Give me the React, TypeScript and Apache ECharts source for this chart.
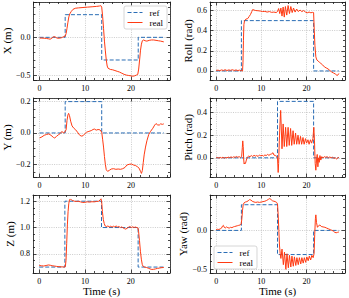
import React, { useEffect, useRef } from "react";
import * as echarts from "echarts";

const FONT = "'Liberation Serif', 'Times New Roman', serif";
const REF_COLOR = "#2a6db5";
const REAL_COLOR = "#ff3a12";
const AXIS_COLOR = "#1a1a1a";

// Reference step schedule
const stepTimes = [0, 5.6, 13.6, 21.6, 27.2];
const xRefLevels = [0, 0.3, -0.3, 0];
const rollRefLevels = [0, 0.5, 0.5, 0];
const yRefLevels = [0, 0.2, 0, 0];
const pitchRefLevels = [0, 0, 0.5, 0];
const zRefLevels = [0.7, 1.2, 1.0, 0.7];
const yawRefLevels = [0, 0.33, -0.31, 0];

// Measured ("real") trajectories: [time s, value]
const xReal = [
  [0, -0.01], [0.5, -0.01], [1, -0.012], [1.5, -0.015], [2, -0.02], [2.3, -0.025], [2.7, -0.01], [3.1, 0.01],
  [3.4, 0.005], [3.8, -0.01], [4.3, -0.012], [4.8, -0.005], [5.3, 0.01], [5.6, 0.015], [5.8, 0.05], [6.0, 0.12],
  [6.2, 0.2], [6.4, 0.27], [6.6, 0.31], [6.9, 0.34], [7.3, 0.37], [7.8, 0.385], [8.5, 0.39], [9.5, 0.395],
  [10.5, 0.4], [11.5, 0.405], [12.5, 0.41], [13.1, 0.415], [13.4, 0.42], [13.6, 0.4], [13.8, 0.28], [14.0, 0.12],
  [14.2, -0.05], [14.4, -0.18], [14.6, -0.3], [14.8, -0.38], [15.0, -0.41], [15.5, -0.425], [16.0, -0.43],
  [16.5, -0.44], [17.0, -0.45], [17.5, -0.46], [18.0, -0.475], [18.5, -0.49], [19.0, -0.5], [19.5, -0.505],
  [20.0, -0.51], [20.4, -0.515], [20.8, -0.51], [21.2, -0.5], [21.5, -0.49], [21.7, -0.42], [21.9, -0.3],
  [22.1, -0.17], [22.3, -0.09], [22.5, -0.045], [22.8, -0.035], [23.1, -0.045], [23.5, -0.05], [24.0, -0.04],
  [24.5, -0.035], [25.0, -0.035], [25.5, -0.04], [26.0, -0.045], [26.5, -0.05], [27.2, -0.06],
];

const rollReal = [
  [0, 0.005], [0.4, 0.008], [0.8, 0.003], [1.2, 0.01], [1.6, 0.005], [2.0, 0.012], [2.4, 0.004], [2.8, 0.01],
  [3.2, 0.006], [3.6, 0.012], [4.0, 0.005], [4.4, 0.01], [4.8, 0.004], [5.2, 0.008], [5.6, 0.002], [5.85, 0.0],
  [5.95, 0.08], [6.05, 0.3], [6.15, 0.46], [6.3, 0.5], [6.6, 0.515], [7.0, 0.52], [7.3, 0.54], [7.6, 0.56],
  [7.9, 0.59], [8.1, 0.61], [8.4, 0.605], [8.8, 0.6], [9.3, 0.598], [9.8, 0.595], [10.3, 0.59], [10.8, 0.592],
  [11.3, 0.585], [11.8, 0.59], [12.3, 0.582], [12.8, 0.585], [13.3, 0.58], [13.6, 0.59], [13.85, 0.62],
  [14.1, 0.57], [14.35, 0.625], [14.6, 0.545], [14.85, 0.635], [15.1, 0.535], [15.35, 0.64], [15.65, 0.555],
  [15.95, 0.65], [16.25, 0.57], [16.55, 0.64], [16.85, 0.58], [17.15, 0.625], [17.5, 0.585], [17.85, 0.615],
  [18.2, 0.59], [18.6, 0.605], [19.0, 0.59], [19.4, 0.6], [19.8, 0.585], [20.2, 0.578], [20.6, 0.585],
  [21.0, 0.578], [21.4, 0.582], [21.6, 0.58], [21.75, 0.4], [21.9, 0.25], [22.1, 0.14], [22.3, 0.11],
  [22.6, 0.1], [22.9, 0.085], [23.2, 0.075], [23.6, 0.06], [24.0, 0.04], [24.4, 0.03], [24.8, 0.02],
  [25.2, 0.005], [25.6, -0.01], [26.0, -0.02], [26.4, -0.03], [26.8, -0.045], [27.0, -0.04], [27.2, -0.025],
];

const yReal = [
  [0, -0.032], [0.5, -0.025], [1.0, -0.015], [1.5, -0.01], [2.0, -0.006], [2.5, -0.015], [3.0, -0.028],
  [3.3, -0.032], [3.7, -0.022], [4.1, -0.012], [4.5, -0.004], [4.9, 0.01], [5.2, 0.0], [5.5, 0.005],
  [5.8, 0.02], [6.0, 0.08], [6.2, 0.115], [6.35, 0.125], [6.55, 0.11], [6.8, 0.075], [7.1, 0.045], [7.5, 0.03],
  [7.9, 0.02], [8.3, 0.005], [8.7, -0.012], [9.1, -0.02], [9.5, -0.018], [9.9, -0.005], [10.3, 0.005],
  [10.8, 0.01], [11.3, 0.015], [11.7, 0.022], [12.0, 0.025], [12.4, 0.018], [12.8, 0.022], [13.2, 0.02],
  [13.6, 0.005], [13.8, -0.04], [14.0, -0.09], [14.2, -0.15], [14.4, -0.2], [14.6, -0.235], [14.9, -0.245],
  [15.3, -0.238], [15.7, -0.23], [16.2, -0.228], [16.7, -0.232], [17.2, -0.23], [17.7, -0.232], [18.2, -0.228],
  [18.7, -0.22], [19.1, -0.205], [19.6, -0.2], [20.1, -0.198], [20.6, -0.205], [21.0, -0.208], [21.4, -0.215],
  [21.8, -0.225], [22.1, -0.245], [22.3, -0.258], [22.5, -0.24], [22.7, -0.19], [22.9, -0.14], [23.2, -0.09],
  [23.5, -0.05], [23.9, -0.01], [24.3, 0.01], [24.8, 0.03], [25.2, 0.05], [25.5, 0.06], [25.8, 0.052],
  [26.2, 0.05], [26.5, 0.058], [26.9, 0.055], [27.2, 0.058],
];

const pitchReal = [
  [0, 0.0], [0.3, 0.003], [0.6, -0.003], [0.9, 0.004], [1.2, -0.002], [1.5, 0.005], [1.8, -0.004], [2.1, 0.003],
  [2.4, 0.0], [2.7, 0.006], [3.0, 0.002], [3.3, 0.008], [3.6, 0.003], [3.9, 0.009], [4.2, 0.004], [4.5, 0.012],
  [4.8, 0.005], [5.1, 0.01], [5.4, 0.004], [5.65, 0.01], [5.8, 0.09], [5.9, 0.15], [6.0, 0.1], [6.1, -0.01],
  [6.2, -0.055], [6.35, -0.045], [6.5, -0.05], [6.7, -0.02], [6.9, 0.005], [7.2, 0.015], [7.5, 0.01],
  [7.8, 0.02], [8.1, 0.012], [8.4, 0.022], [8.7, 0.015], [9.0, 0.02], [9.3, 0.012], [9.6, 0.025], [9.9, 0.018],
  [10.2, 0.022], [10.5, 0.015], [10.8, 0.025], [11.1, 0.02], [11.4, 0.03], [11.7, 0.022], [12.0, 0.03],
  [12.3, 0.035], [12.6, 0.045], [12.8, 0.025], [13.1, 0.02], [13.4, 0.015], [13.6, 0.0], [13.75, -0.13],
  [13.85, -0.05], [14.0, 0.15], [14.15, 0.3], [14.3, 0.42], [14.6, 0.08], [14.85, 0.3], [15.1, 0.1],
  [15.4, 0.27], [15.65, 0.1], [15.95, 0.27], [16.2, 0.11], [16.5, 0.26], [16.75, 0.11], [17.05, 0.24],
  [17.3, 0.12], [17.6, 0.22], [17.85, 0.12], [18.15, 0.2], [18.4, 0.12], [18.7, 0.19], [18.95, 0.12],
  [19.25, 0.18], [19.5, 0.12], [19.8, 0.17], [20.05, 0.13], [20.35, 0.16], [20.6, 0.12], [20.9, 0.16],
  [21.15, 0.13], [21.45, 0.17], [21.65, 0.27], [21.8, 0.15], [21.95, -0.05], [22.1, -0.11], [22.25, -0.02],
  [22.4, 0.03], [22.55, -0.08], [22.7, 0.0], [22.85, -0.04], [23.0, 0.02], [23.2, -0.02], [23.4, 0.01],
  [23.7, 0.0], [24.0, 0.01], [24.3, 0.005], [24.6, 0.01], [24.9, 0.0], [25.2, 0.008], [25.5, 0.0],
  [25.8, 0.005], [26.1, -0.005], [26.4, 0.0], [26.7, -0.01], [27.0, 0.0], [27.2, 0.005],
];

const zReal = [
  [0, 0.712], [0.5, 0.71], [1.0, 0.708], [1.5, 0.712], [2.0, 0.716], [2.4, 0.714], [2.8, 0.71], [3.3, 0.708],
  [3.8, 0.705], [4.3, 0.703], [4.8, 0.702], [5.3, 0.701], [5.7, 0.702], [5.85, 0.75], [6.0, 0.88],
  [6.15, 1.02], [6.3, 1.12], [6.45, 1.18], [6.6, 1.21], [6.8, 1.217], [7.0, 1.21], [7.3, 1.205], [7.7, 1.2],
  [8.1, 1.198], [8.5, 1.2], [9.0, 1.195], [9.5, 1.19], [10.0, 1.192], [10.5, 1.195], [11.0, 1.193],
  [11.5, 1.196], [12.0, 1.195], [12.5, 1.198], [13.0, 1.2], [13.3, 1.21], [13.5, 1.218], [13.65, 1.19],
  [13.8, 1.12], [14.0, 1.06], [14.2, 1.03], [14.4, 1.012], [14.7, 1.008], [15.0, 1.012], [15.3, 1.005],
  [15.6, 1.01], [15.9, 1.003], [16.2, 1.01], [16.5, 1.005], [16.8, 1.012], [17.1, 1.004], [17.4, 1.008],
  [17.7, 1.0], [18.0, 1.005], [18.3, 0.998], [18.6, 0.992], [18.9, 0.988], [19.2, 0.995], [19.5, 1.002],
  [19.8, 1.008], [20.1, 1.0], [20.4, 1.006], [20.7, 1.0], [21.0, 1.004], [21.3, 1.0], [21.55, 0.998],
  [21.7, 0.97], [21.9, 0.9], [22.1, 0.82], [22.3, 0.76], [22.5, 0.72], [22.7, 0.705], [23.0, 0.7],
  [23.4, 0.697], [23.8, 0.692], [24.2, 0.686], [24.6, 0.682], [25.0, 0.683], [25.4, 0.686], [25.8, 0.69],
  [26.2, 0.692], [26.6, 0.695], [27.2, 0.697],
];

const yawReal = [
  [0, 0.01], [0.3, 0.015], [0.6, 0.012], [0.9, 0.02], [1.2, 0.03], [1.4, 0.055], [1.6, 0.065], [1.8, 0.04],
  [2.0, 0.03], [2.3, 0.045], [2.6, 0.035], [2.9, 0.03], [3.2, 0.04], [3.5, 0.035], [3.8, 0.045], [4.1, 0.05],
  [4.4, 0.055], [4.7, 0.06], [5.0, 0.065], [5.3, 0.07], [5.55, 0.08], [5.7, 0.15], [5.85, 0.26], [6.0, 0.33],
  [6.2, 0.355], [6.5, 0.365], [6.8, 0.37], [7.1, 0.38], [7.4, 0.395], [7.7, 0.39], [8.0, 0.375], [8.4, 0.365],
  [8.8, 0.36], [9.2, 0.365], [9.6, 0.36], [10.0, 0.365], [10.4, 0.37], [10.8, 0.375], [11.2, 0.385],
  [11.6, 0.4], [11.9, 0.41], [12.2, 0.395], [12.5, 0.38], [12.8, 0.375], [13.1, 0.37], [13.4, 0.36],
  [13.6, 0.34], [13.75, 0.2], [13.9, 0.0], [14.05, -0.2], [14.2, -0.3], [14.35, -0.36], [14.6, -0.24],
  [14.9, -0.44], [15.15, -0.28], [15.45, -0.5], [15.7, -0.3], [16.0, -0.48], [16.25, -0.32], [16.55, -0.47],
  [16.8, -0.33], [17.1, -0.46], [17.35, -0.34], [17.65, -0.45], [17.9, -0.35], [18.2, -0.44], [18.45, -0.35],
  [18.75, -0.43], [19.0, -0.35], [19.3, -0.42], [19.55, -0.35], [19.85, -0.41], [20.1, -0.34], [20.4, -0.39],
  [20.65, -0.33], [20.95, -0.38], [21.2, -0.32], [21.5, -0.35], [21.7, -0.3], [21.85, -0.05], [22.0, 0.15],
  [22.1, 0.2], [22.25, 0.1], [22.45, 0.04], [22.7, 0.06], [23.0, 0.07], [23.3, 0.05], [23.7, 0.045],
  [24.1, 0.04], [24.5, 0.03], [24.9, 0.02], [25.3, 0.01], [25.7, 0.0], [26.0, -0.01], [26.3, -0.025],
  [26.6, -0.03], [26.9, -0.025], [27.2, -0.02],
];

// Panel axes
const panelLabels = ["X (m)", "Roll (rad)", "Y (m)", "Pitch (rad)", "Z (m)", "Yaw (rad)"];
const panelRefLevels = [xRefLevels, rollRefLevels, yRefLevels, pitchRefLevels, zRefLevels, yawRefLevels];
const panelReal = [xReal, rollReal, yReal, pitchReal, zReal, yawReal];
const yMins = [-0.565, -0.09, -0.281, -0.17, 0.655, -0.547];
const yMaxs = [0.468, 0.685, 0.223, 0.53, 1.247, 0.455];
const yIntervals = [0.5, 0.2, 0.2, 0.2, 0.2, 0.5];
const yMinorSplits = [5, 4, 4, 4, 4, 5];
const timeMin = -1.36;
const timeMax = 28.56;
const timeInterval = 10;
const timeMinorSplit = 5;

// Layout
const colLefts = [33, 210];
const colWidths = [137, 135];
const rowTops = [2, 98, 195];
const rowHeights = [78, 79, 78];

function stepData(levels: number[]) {
  const pts: number[][] = [];
  for (let k = 0; k < levels.length; k++) {
    pts.push([stepTimes[k], levels[k]]);
    pts.push([stepTimes[k + 1], levels[k]]);
  }
  return pts;
}

const fmtY = (v: number) => {
  const s = Math.abs(v).toFixed(1);
  return v < -1e-9 ? "\u2212" + s : s;
};

export default function App() {
  const ref = useRef<HTMLDivElement>(null);
  useEffect(() => {
    if (!ref.current) return;
    const chart = echarts.init(ref.current, null, { renderer: "svg" });
    const grids: any[] = [];
    const xAxes: any[] = [];
    const yAxes: any[] = [];
    const series: any[] = [];
    const lineCommon = { color: AXIS_COLOR, width: 0.8 };
    for (let i = 0; i < 6; i++) {
      const row = Math.floor(i / 2);
      const col = i % 2;
      grids.push({
        left: colLefts[col],
        top: rowTops[row],
        width: colWidths[col],
        height: rowHeights[row],
        containLabel: false,
      });
      const isBottom = row === 2;
      const xBase = {
        type: "value",
        gridIndex: i,
        min: timeMin,
        max: timeMax,
        minInterval: timeInterval,
        maxInterval: timeInterval,
        splitNumber: 3,
        axisLine: { show: true, onZero: false, lineStyle: lineCommon },
        axisTick: { show: true, inside: true, length: 3.5, lineStyle: lineCommon },
        minorTick: { show: true, splitNumber: timeMinorSplit, length: 2, lineStyle: lineCommon },
      };
      xAxes.push({
        ...xBase,
        position: "bottom",
        axisLabel: {
          show: true,
          fontSize: 8,
          fontFamily: FONT,
          color: "#000",
          margin: 4,
          showMinLabel: false,
          showMaxLabel: false,
          formatter: (v: number) => String(Math.round(v)),
        },
        splitLine: { show: true, lineStyle: { color: "#aaaaaa", type: [1, 1.3], width: 0.6 } },
        name: isBottom ? "Time (s)" : "",
        nameLocation: "middle",
        nameGap: 12,
        nameTextStyle: { fontSize: 11, fontFamily: FONT, color: "#000" },
      });
      xAxes.push({
        ...xBase,
        position: "top",
        axisLabel: { show: false },
        splitLine: { show: false },
      });
      const yBase = {
        type: "value",
        gridIndex: i,
        min: yMins[i],
        max: yMaxs[i],
        minInterval: yIntervals[i],
        maxInterval: yIntervals[i],
        splitNumber: 3,
        axisLine: { show: true, onZero: false, lineStyle: lineCommon },
        axisTick: { show: true, inside: true, length: 3.5, lineStyle: lineCommon },
        minorTick: { show: true, splitNumber: yMinorSplits[i], length: 2, lineStyle: lineCommon },
      };
      yAxes.push({
        ...yBase,
        position: "left",
        axisLabel: {
          show: true,
          fontSize: 8,
          fontFamily: FONT,
          color: "#000",
          margin: 3,
          showMinLabel: false,
          showMaxLabel: false,
          formatter: fmtY,
        },
        splitLine: { show: true, lineStyle: { color: "#aaaaaa", type: [1, 1.3], width: 0.6 } },
        name: panelLabels[i],
        nameLocation: "middle",
        nameGap: col === 0 ? 18 : 17,
        nameTextStyle: { fontSize: 11, fontFamily: FONT, color: "#000" },
      });
      yAxes.push({
        ...yBase,
        position: "right",
        axisLabel: { show: false },
        splitLine: { show: false },
      });
      series.push({
        type: "line",
        name: "ref",
        xAxisIndex: 2 * i,
        yAxisIndex: 2 * i,
        data: stepData(panelRefLevels[i]),
        symbol: "none",
        lineStyle: { color: REF_COLOR, width: 1, type: [4, 2] },
        itemStyle: { color: REF_COLOR },
        z: 2,
      });
      series.push({
        type: "line",
        name: "real",
        xAxisIndex: 2 * i,
        yAxisIndex: 2 * i,
        data: panelReal[i],
        symbol: "none",
        lineStyle: { color: REAL_COLOR, width: 1 },
        itemStyle: { color: REAL_COLOR },
        z: 3,
      });
    }
    const legendCommon = {
      data: ["ref", "real"],
      orient: "vertical",
      selectedMode: false,
      itemWidth: 15,
      itemHeight: 9,
      itemGap: 1,
      padding: [2, 4, 2, 3],
      borderColor: "#cccccc",
      borderWidth: 0.8,
      borderRadius: 2,
      backgroundColor: "rgba(255,255,255,0.85)",
      itemStyle: { opacity: 0, color: "transparent", borderColor: "transparent", borderWidth: 0 },
      lineStyle: { width: 1, type: "inherit", color: "inherit" },
      textStyle: { fontSize: 9, fontFamily: FONT, color: "#000", padding: [0, 0, 0, 2] },
    };
    chart.setOption({
      animation: false,
      backgroundColor: "#fff",
      grid: grids,
      xAxis: xAxes,
      yAxis: yAxes,
      series,
      legend: [
        { ...legendCommon, right: 182, top: 6 },
        { ...legendCommon, left: 214, bottom: 29 },
      ],
    });
    return () => chart.dispose();
  }, []);
  return (
    <div
      ref={ref}
      style={{ position: "absolute", left: 0, top: 0, width: 349, height: 298 }}
    />
  );
}
